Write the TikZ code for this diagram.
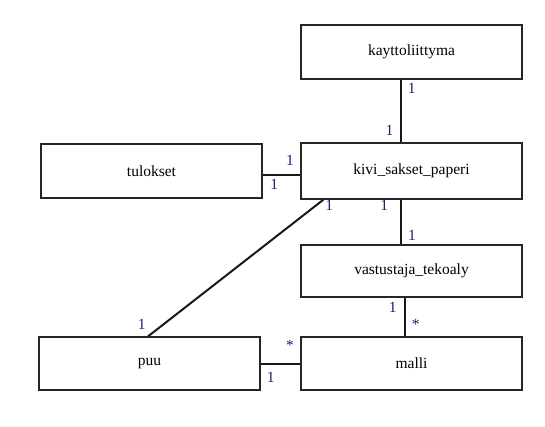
\documentclass[tikz,border=0pt]{standalone}
\usepackage{fontspec}
\setmainfont{Liberation Serif}
\usetikzlibrary{positioning}
\definecolor{multblue}{RGB}{25,35,110}

\begin{document}
\begin{tikzpicture}[
                x=1pt, y=-1pt,
                cls/.style={rectangle, draw=black!85, line width=1.2pt, minimum width=221pt, minimum height=54pt, font=\fontsize{15.5}{18}\selectfont},
                mult/.style={text=multblue, inner sep=0pt, font=\fontsize{15.5}{18}\selectfont},
                link/.style={draw=black!90, line width=2pt}
            ]
                \useasboundingbox (0,0) rectangle (545,427);

                % Place classes
                \node [cls] (kaytto) at (411.5,52) {kayttoliittyma};
                \node [cls, minimum height=56pt] (kivi) at (411.5,171) {kivi\_sakset\_paperi};
                \node [cls] (tulokset) at (151.5,171) {tulokset};
                \node [cls, minimum height=52pt] (vastustaja) at (411.5,271) {vastustaja\_tekoaly};
                \node [cls, minimum height=53pt] (puu) at (149.5,363.5) {puu};
                \node [cls, minimum height=53pt] (malli) at (411.5,363.5) {malli};

                % Draw associations
                \path [link] ([xshift=-10.5pt]kaytto.south) -- ([xshift=-10.5pt]kivi.north);
                \path [link] ([yshift=-4pt]tulokset.east) -- ([yshift=-4pt]kivi.west);
                \path [link] ([xshift=-88pt]kivi.south) -- ([xshift=-1.5pt]puu.north);
                \path [link] ([xshift=-10.5pt]kivi.south) -- ([xshift=-10.5pt]vastustaja.north);
                \path [link] ([xshift=-6.5pt]vastustaja.south) -- ([xshift=-6.5pt]malli.north);
                \path [link] (puu.east) -- (malli.west);

                % Multiplicities
                \node [mult] (m_kaytto) at (411.7,88.3) {1};
                \node [mult] (m_kivi_top) at (389.5,130) {1};
                \node [mult] (m_kivi_left) at (290,160) {1};
                \node [mult] (m_tulokset) at (274.3,184.3) {1};
                \node [mult] (m_kivi_puu) at (329.3,205.5) {1};
                \node [mult] (m_kivi_bottom) at (384.3,205.7) {1};
                \node [mult] (m_vastustaja_top) at (412,235) {1};
                \node [mult] (m_vastustaja_bottom) at (392.7,307.3) {1};
                \node [mult] (m_malli_top) at (415.7,324.5) {*};
                \node [mult] (m_malli_left) at (290,345.5) {*};
                \node [mult] (m_puu_right) at (270.7,377.7) {1};
                \node [mult] (m_puu_top) at (141.7,324.3) {1};

            \end{tikzpicture}
\end{document}
